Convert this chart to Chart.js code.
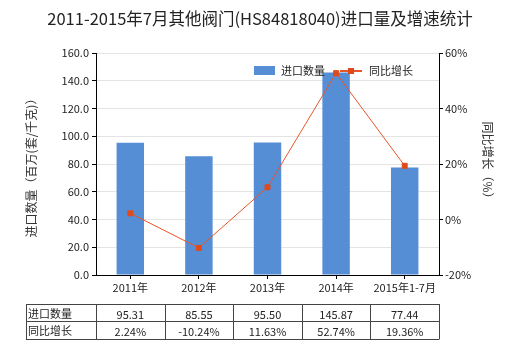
<!DOCTYPE html>
<html>
<head>
<meta charset="utf-8">
<script src="https://cdn.jsdelivr.net/npm/chart.js@4"></script>
<style>
  html, body { margin: 0; padding: 0; background: #fff; }
  #wrap { width: 520px; height: 350px; position: relative; }
</style>
</head>
<body>
<div id="wrap"><canvas id="chart" width="520" height="350"></canvas></div>
<script>
// DATA
const categories = ["2011年", "2012年", "2013年", "2014年", "2015年1-7月"];
const importVolume = [95.31, 85.55, 95.50, 145.87, 77.44];
const growthRate = [2.24, -10.24, 11.63, 52.74, 19.36];
const volumeLabels = ["95.31", "85.55", "95.50", "145.87", "77.44"];
const growthLabels = ["2.24%", "-10.24%", "11.63%", "52.74%", "19.36%"];

const FONT = "'Noto Sans CJK SC', 'Noto Sans', sans-serif";
const BAR_COLOR = "#558ed5";
const LINE_COLOR = "#e8562a";

// TITLE, AXIS TITLES, LEGEND AND TABLE
const extras = {
  id: "extras",
  afterDraw(chart) {
    const ctx = chart.ctx;
    const area = chart.chartArea;
    const xs = chart.scales.x;
    ctx.save();

    // title
    ctx.fillStyle = "#222";
    ctx.font = "16.5px " + FONT;
    ctx.textAlign = "center";
    ctx.textBaseline = "middle";
    ctx.fillText("2011-2015年7月其他阀门(HS84818040)进口量及增速统计", 260, 19);

    // axis titles
    ctx.font = "12px " + FONT;
    ctx.fillStyle = "#333";
    ctx.save();
    ctx.translate(31, 165);
    ctx.rotate(-Math.PI / 2);
    ctx.fillText("进口数量（百万(套/千克)）", 0, 0);
    ctx.restore();
    ctx.save();
    ctx.translate(488, 163);
    ctx.rotate(Math.PI / 2);
    ctx.fillText("同比增长（%）", 0, 0);
    ctx.restore();

    // legend
    ctx.font = "11px " + FONT;
    ctx.textAlign = "left";
    ctx.fillStyle = BAR_COLOR;
    ctx.fillRect(254, 66, 21, 9);
    ctx.fillStyle = "#222";
    ctx.fillText("进口数量", 281, 71);
    ctx.strokeStyle = LINE_COLOR;
    ctx.lineWidth = 2;
    ctx.beginPath();
    ctx.moveTo(340, 71);
    ctx.lineTo(362, 71);
    ctx.stroke();
    ctx.fillStyle = "#e04a1b";
    ctx.fillRect(348, 68, 6, 6);
    ctx.fillStyle = "#222";
    ctx.fillText("同比增长", 369, 71);

    // data table
    const top = 304, mid = 321, bottom = 339, left = 26, right = area.right;
    ctx.strokeStyle = "#444";
    ctx.lineWidth = 1;
    ctx.beginPath();
    [top, mid, bottom].forEach(y => {
      ctx.moveTo(left, y + 0.5);
      ctx.lineTo(right, y + 0.5);
    });
    const bounds = [left, area.left];
    const step = (area.right - area.left) / categories.length;
    for (let i = 1; i <= categories.length; i++) bounds.push(area.left + step * i);
    bounds.forEach(x => {
      const px = Math.round(x) + 0.5;
      ctx.moveTo(px, top);
      ctx.lineTo(px, bottom + 0.5);
    });
    ctx.stroke();

    ctx.fillStyle = "#222";
    ctx.font = "11px " + FONT;
    ctx.textAlign = "left";
    ctx.fillText("进口数量", left + 2, (top + mid) / 2 + 1);
    ctx.fillText("同比增长", left + 2, (mid + bottom) / 2 + 1);
    ctx.textAlign = "center";
    categories.forEach((c, i) => {
      const cx = xs.getPixelForValue(i);
      ctx.fillText(volumeLabels[i], cx, (top + mid) / 2 + 2);
      ctx.fillText(growthLabels[i], cx, (mid + bottom) / 2 + 2);
    });
    ctx.restore();
  }
};

// CHART
new Chart(document.getElementById("chart"), {
  data: {
    labels: categories,
    datasets: [
      {
        type: "line",
        label: "同比增长",
        data: growthRate,
        yAxisID: "y1",
        borderColor: LINE_COLOR,
        borderWidth: 1,
        pointStyle: "rect",
        pointRadius: 3.5,
        pointBackgroundColor: "#e04a1b",
        pointBorderColor: "#e04a1b",
        tension: 0,
        order: 1
      },
      {
        type: "bar",
        label: "进口数量",
        data: importVolume,
        yAxisID: "y",
        backgroundColor: BAR_COLOR,
        categoryPercentage: 1,
        barPercentage: 0.4,
        order: 2
      }
    ]
  },
  options: {
    responsive: false,
    animation: false,
    layout: { padding: { top: 53, left: 0, right: 0, bottom: 0 } },
    plugins: {
      legend: { display: false },
      title: { display: false },
      tooltip: { enabled: false }
    },
    scales: {
      x: {
        offset: true,
        grid: { drawOnChartArea: false, tickColor: "#000", tickLength: 4, offset: false },
        border: { color: "#000" },
        ticks: { color: "#222", font: { size: 11, family: FONT }, padding: 2, maxRotation: 0 },
        afterFit(scale) { scale.height = 75; }
      },
      y: {
        position: "left",
        min: 0,
        max: 160,
        ticks: {
          stepSize: 20,
          color: "#222",
          font: { size: 11, family: FONT },
          padding: 3,
          callback: v => v.toFixed(1)
        },
        grid: { color: "#e4e4e4", tickColor: "#000", tickLength: 4 },
        border: { color: "#000" },
        afterFit(scale) { scale.width = 96; }
      },
      y1: {
        position: "right",
        min: -20,
        max: 60,
        ticks: {
          stepSize: 20,
          color: "#222",
          font: { size: 11, family: FONT },
          padding: 2,
          callback: v => v + "%"
        },
        grid: { drawOnChartArea: false, tickColor: "#000", tickLength: 4 },
        border: { color: "#000" },
        afterFit(scale) { scale.width = 81; }
      }
    }
  },
  plugins: [extras]
});
</script>
</body>
</html>
